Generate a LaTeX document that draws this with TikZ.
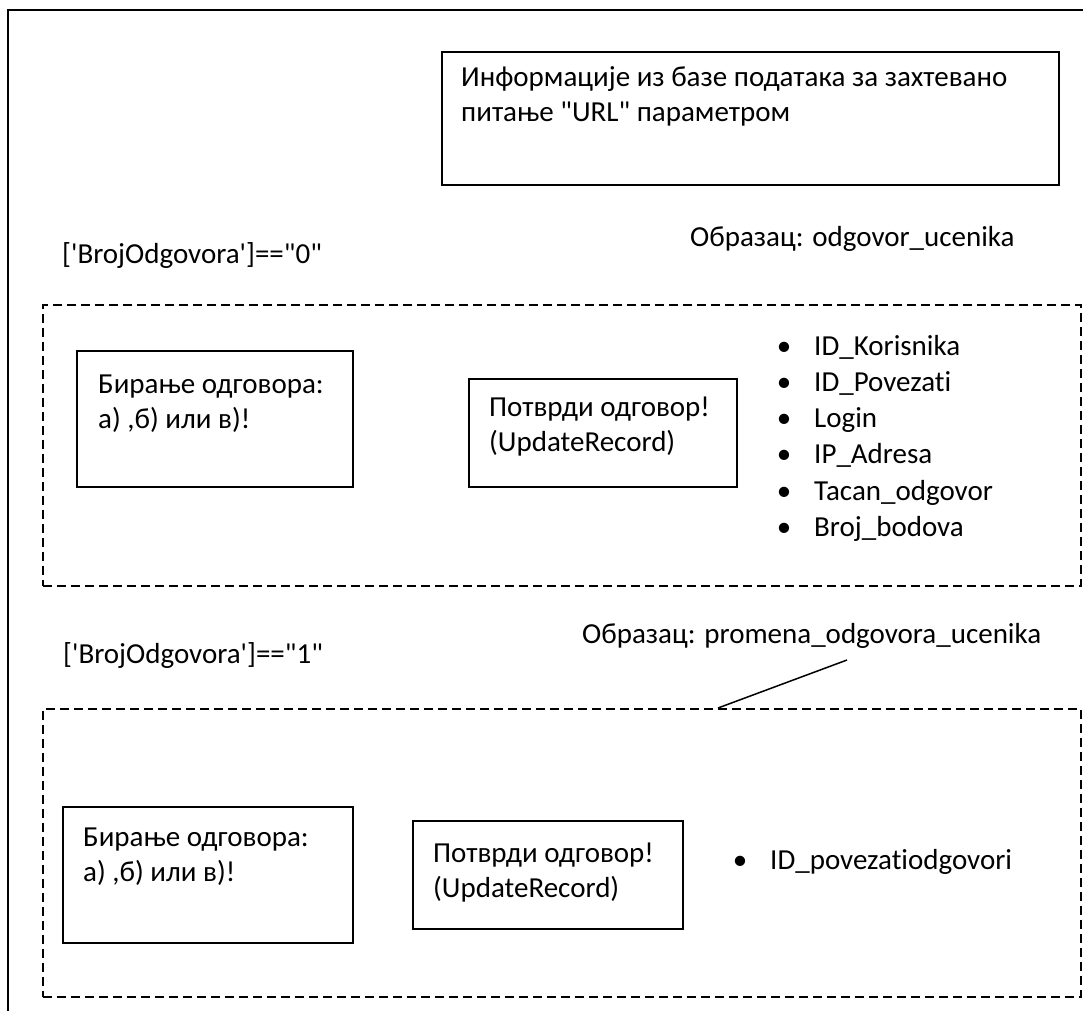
\documentclass[tikz,border=0pt]{standalone}
\usepackage{fontspec}
\setmainfont{Carlito}[Ligatures={TeXOff,NoCommon}]
\begin{document}
\begin{tikzpicture}[x=1pt,y=-1pt,
  frame/.style={line width=2pt},
  box/.style={draw,line width=1.6pt,rectangle,inner sep=0,anchor=north west},
  dbox/.style={draw,line width=1.5pt,dash pattern=on 9pt off 5pt,rectangle,inner sep=0,anchor=north west},
  txt/.style={anchor=base west,inner sep=0,font=\fontsize{29}{35}\selectfont},
  bul/.style={anchor=base,inner sep=0,font=\fontsize{29}{35}\selectfont}]
\useasboundingbox (0,0) rectangle (1083,1011);
% outer frame
\coordinate (fa) at (1083,10);
\coordinate (fb) at (8,10);
\coordinate (fc) at (8,1011);
\draw[frame] (fa) -- (fb) -- (fc);
% top box
\node[box,minimum width=617,minimum height=133] (info) at (441,51) {};
\node[txt] (info1) at (461,87) {Информације из базе података за захтевано};
\node[txt] (info2) at (461,122) {питање "URL" параметром};
% section 1
\node[txt] (cond0) at (62,263) {['BrojOdgovora']=="0"};
\node[txt] (obr1) at (690,246) {Образац: odgovor\_ucenika};
\node[dbox,minimum width=1038,minimum height=281] (sec1) at (42,304) {};
\node[box,minimum width=276,minimum height=136] (bir1) at (76,350) {};
\node[txt] (bir1a) at (98,393) {Бирање одговора:};
\node[txt] (bir1b) at (98,428) {а) ,б) или в)!};
\node[box,minimum width=268,minimum height=108] (pot1) at (468,378) {};
\node[txt] (pot1a) at (489,416) {Потврди одговор!};
\node[txt] (pot1b) at (489,451) {(UpdateRecord)};
\foreach \t [count=\i] in {ID\_Korisnika,ID\_Povezati,Login,IP\_Adresa,Tacan\_odgovor,Broj\_bodova}{
  \node[bul] (b\i) at (784,{355+36.3*(\i-1)}) {•};
  \node[txt] (l\i) at (814,{355+36.3*(\i-1)}) {\t};
}
% section 2
\node[txt] (obr2) at (582,643) {Образац: promena\_odgovora\_ucenika};
\node[txt] (cond1) at (63,663) {['BrojOdgovora']=="1"};
\node[dbox,minimum width=1038,minimum height=288] (sec2) at (42,708) {};
\coordinate (lk) at (847,660);
\draw[line width=1.5pt] (lk) -- (sec2.north west -| 718,0);
\node[box,minimum width=290,minimum height=136] (bir2) at (62,806) {};
\node[txt] (bir2a) at (83,846) {Бирање одговора:};
\node[txt] (bir2b) at (83,881) {а) ,б) или в)!};
\node[box,minimum width=270,minimum height=108] (pot2) at (412,820) {};
\node[txt] (pot2a) at (433,862) {Потврди одговор!};
\node[txt] (pot2b) at (433,897) {(UpdateRecord)};
\node[bul] (bb) at (740,869) {•};
\node[txt] (lb) at (770,869) {ID\_povezatiodgovori};
\end{tikzpicture}
\end{document}
